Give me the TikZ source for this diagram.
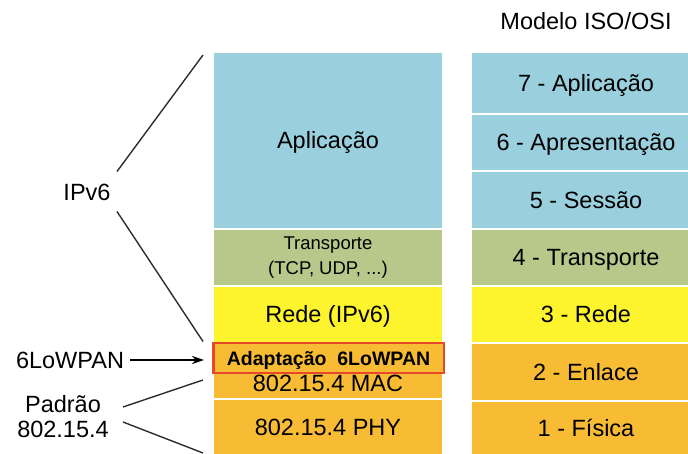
\documentclass[tikz,border=0pt]{standalone}
\usepackage{fontspec}
\setmainfont{Liberation Sans}
\usetikzlibrary{arrows.meta}
\definecolor{appblue}{RGB}{154,207,222}
\definecolor{trgreen}{RGB}{182,201,138}
\definecolor{netyellow}{RGB}{253,244,45}
\definecolor{linkorange}{RGB}{248,188,52}
\definecolor{adred}{RGB}{232,72,42}
\definecolor{wire}{RGB}{45,45,45}
\begin{document}
\begin{tikzpicture}[x=1pt,y=-1pt,
  cellbase/.style={minimum width=228pt, inner sep=0pt, text=black,
    font=\fontsize{23.5}{28}\selectfont},
  cell/.style={cellbase, text height=17pt, text depth=0pt},
  side/.style={inner sep=2pt, text=black, font=\fontsize{23.5}{25}\selectfont},
  wireline/.style={draw=wire, line width=1.4pt},
  arr/.style={draw=black, line width=1.4pt, -{Stealth[length=12pt,width=8pt]}}]
\useasboundingbox (0,0) rectangle (688,454);
\clip (0,0) rectangle (688,454);

% 6LoWPAN protocol stack
\node[cell, fill=appblue, minimum height=175pt] (app) at (328,140.5) {Aplicação};
\node[cellbase, fill=trgreen, minimum height=55pt, align=center,
  font=\fontsize{18.5}{25}\selectfont] (transp) at (328,257.5)
  {Transporte\\(TCP, UDP, ...)};
\node[cell, fill=netyellow, minimum height=55pt] (rede) at (328,314.5) {Rede (IPv6)};
\node[cell, fill=linkorange, minimum height=30pt] (mac) at (328,383) {802.15.4 MAC};
\node[cell, fill=linkorange, minimum height=54pt] (phy) at (328,427) {802.15.4 PHY};
\node[draw=adred, line width=2.5pt, fill=linkorange, minimum width=230.5pt,
  minimum height=29.6pt, inner sep=0pt, text height=14pt, text depth=0pt,
  font=\fontsize{19.5}{24}\selectfont\bfseries] (adapt) at (328.5,358)
  {Adaptação\ \ 6LoWPAN};

% ISO/OSI reference model
\node[side] (osi) at (586,21) {Modelo ISO/OSI};
\node[cell, fill=appblue, minimum height=60pt] (l7) at (586,83) {7 - Aplicação};
\node[cell, fill=appblue, minimum height=55pt] (l6) at (586,142.5) {6 - Apresentação};
\node[cell, fill=appblue, minimum height=56pt] (l5) at (586,200) {5 - Sessão};
\node[cell, fill=trgreen, minimum height=55pt] (l4) at (586,257.5) {4 - Transporte};
\node[cell, fill=netyellow, minimum height=55pt] (l3) at (586,314.5) {3 - Rede};
\node[cell, fill=linkorange, minimum height=56pt] (l2) at (586,372) {2 - Enlace};
\node[cell, fill=linkorange, minimum height=52pt] (l1) at (586,428) {1 - Física};

% Labels on the left
\node[side] (ipv6) at (87,192) {IPv6};
\node[side] (lowpan) at (70,360) {6LoWPAN};
\node[side, align=center] (padrao) at (63,417) {Padrão\\802.15.4};

% Braces drawn as straight lines
\coordinate (ipA) at (117,171.5);
\coordinate (ipTop) at (203,55);
\coordinate (ipB) at (117,211.5);
\coordinate (ipBot) at (203,341.5);
\coordinate (pdA) at (123,407);
\coordinate (pdTop) at (203,380);
\coordinate (pdB) at (123,422);
\coordinate (pdBot) at (203,453);
\coordinate (lowtip) at (204,360);

\draw[wireline] (ipA) -- (ipTop);
\draw[wireline] (ipB) -- (ipBot);
\draw[wireline] (pdA) -- (pdTop);
\draw[wireline] (pdB) -- (pdBot);
\draw[arr, shorten <=4pt] (lowpan.east) -- (lowtip);
\end{tikzpicture}
\end{document}
